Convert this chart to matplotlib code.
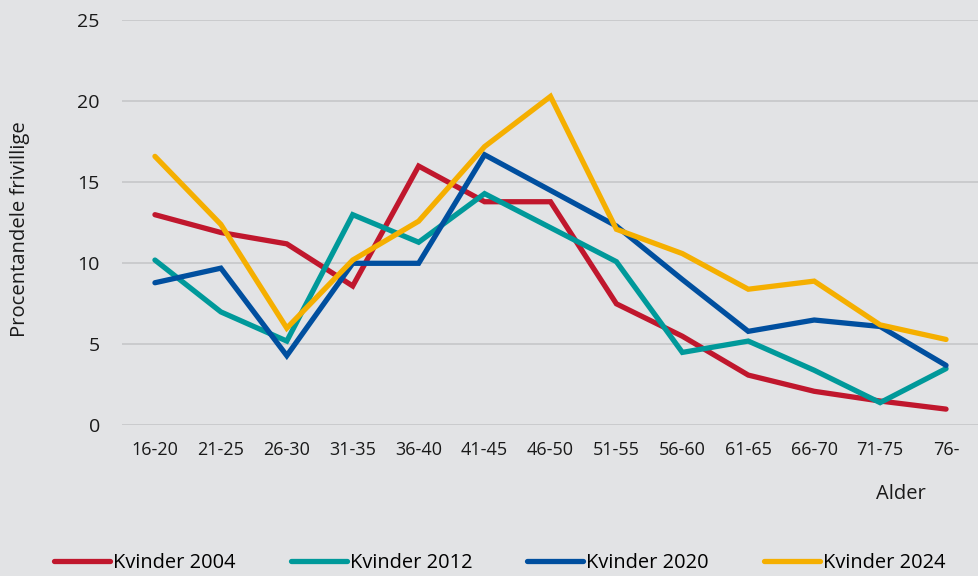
import matplotlib
matplotlib.use("Agg")
import matplotlib.pyplot as plt

# age groups and share of volunteers (percent)
ages = ["16-20", "21-25", "26-30", "31-35", "36-40", "41-45", "46-50",
        "51-55", "56-60", "61-65", "66-70", "71-75", "76-"]
k2004 = [13.0, 11.9, 11.2, 8.6, 16.0, 13.8, 13.8, 7.5, 5.5, 3.1, 2.1, 1.5, 1.0]
k2012 = [10.2, 7.0, 5.2, 13.0, 11.3, 14.3, 12.2, 10.1, 4.5, 5.2, 3.4, 1.4, 3.5]
k2020 = [8.8, 9.7, 4.3, 10.0, 10.0, 16.7, 14.5, 12.3, 9.0, 5.8, 6.5, 6.1, 3.7]
k2024 = [16.6, 12.4, 6.0, 10.2, 12.6, 17.2, 20.3, 12.1, 10.6, 8.4, 8.9, 6.2, 5.3]
labels = ["Kvinder 2004", "Kvinder 2012", "Kvinder 2020", "Kvinder 2024"]
colors = ["#C0172D", "#00999A", "#004F9F", "#F5AF00"]

bg = "#E2E3E5"
plt.rcParams["font.family"] = ["Open Sans", "DejaVu Sans"]

fig = plt.figure(figsize=(9.79, 5.76), dpi=100, facecolor=bg)
ax = fig.add_axes([0.1246, 0.2616, 0.8754, 0.7032], facecolor=bg)

x = list(range(len(ages)))
for ys, lab, c in zip([k2004, k2012, k2020, k2024], labels, colors):
    ax.plot(x, ys, color=c, lw=3.8, label=lab, solid_capstyle="round",
            solid_joinstyle="miter")

ax.set_xlim(-0.5, 12.5)
ax.set_ylim(0, 25)
ax.set_yticks([0, 5, 10, 15, 20, 25])
ax.set_xticks(x)
ax.set_xticklabels(ages)
ax.grid(axis="y", color="#C6C7C9", lw=1.2)
ax.set_axisbelow(True)
for s in ax.spines.values():
    s.set_visible(False)
ax.tick_params(axis="y", length=0, pad=16, labelsize=14, labelcolor="#1a1a1a")
ax.tick_params(axis="x", length=0, pad=11, labelsize=13, labelcolor="#1a1a1a")

fig.text(0.0205, 0.602, "Procentandele frivillige", rotation=90,
         ha="center", va="center", fontsize=14.6, color="#1a1a1a")
fig.text(0.920, 0.142, "Alder", ha="center", va="center",
         fontsize=14.5, color="#1a1a1a")

fig.legend(loc="center left", bbox_to_anchor=(0.047, 0.022), ncol=4,
           frameon=False, fontsize=14.4, handlelength=2.8,
           handletextpad=0.15, columnspacing=2.75, borderaxespad=0)

fig.savefig("out.png", dpi=100, facecolor=bg)
